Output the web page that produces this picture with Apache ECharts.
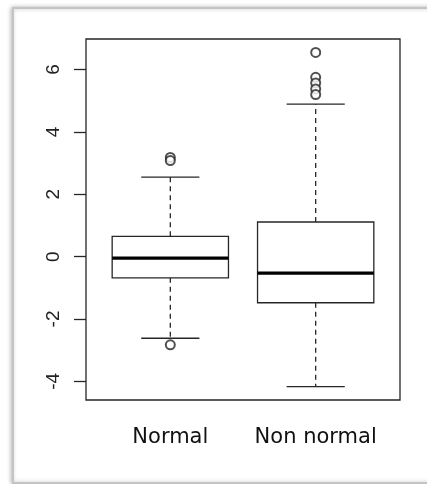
<!DOCTYPE html>
<html>
<head>
<meta charset="utf-8">
<script src="https://cdn.jsdelivr.net/npm/echarts@6/dist/echarts.min.js"></script>
<style>
html,body{margin:0;padding:0;background:#fff;}
#chart{width:427px;height:484px;}
</style>
</head>
<body>
<div id="chart"></div>
<script>
// ---- data ----
const categories = ['Normal', 'Non normal'];
const lowWhisker = [-2.62, -4.17];
const q1 = [-0.68, -1.48];
const median = [-0.05, -0.53];
const q3 = [0.65, 1.11];
const highWhisker = [2.55, 4.89];
const normalOutliers = [3.18, 3.08, -2.83];
const nonNormalOutliers = [6.55, 5.75, 5.57, 5.38, 5.2];
const yTicks = [-4, -2, 0, 2, 4, 6];
const xTicks = [1, 2];

const boxRows = categories.map((c, i) => [i + 1, lowWhisker[i], q1[i], median[i], q3[i], highWhisker[i]]);
const outlierPoints = []
  .concat(normalOutliers.map(v => [1, v]))
  .concat(nonNormalOutliers.map(v => [2, v]));

const chart = echarts.init(document.getElementById('chart'), null, {renderer: 'canvas'});
const lineColor = '#262626';

function renderBox(params, api) {
  const x = api.value(0);
  const lo = api.value(1), a = api.value(2), md = api.value(3), b = api.value(4), hi = api.value(5);
  const half = api.size([0.4, 0])[0];
  const capHalf = api.size([0.2, 0])[0];
  const pLo = api.coord([x, lo]), pA = api.coord([x, a]), pM = api.coord([x, md]), pB = api.coord([x, b]), pHi = api.coord([x, hi]);
  const cx = pM[0];
  const solid = {stroke: lineColor, lineWidth: 1.3, fill: null};
  const dashed = {stroke: lineColor, lineWidth: 1.3, lineDash: [5, 4]};
  return {
    type: 'group',
    children: [
      {type: 'line', shape: {x1: cx, y1: pB[1], x2: cx, y2: pHi[1]}, style: dashed},
      {type: 'line', shape: {x1: cx, y1: pA[1], x2: cx, y2: pLo[1]}, style: dashed},
      {type: 'line', shape: {x1: cx - capHalf, y1: pHi[1], x2: cx + capHalf, y2: pHi[1]}, style: solid},
      {type: 'line', shape: {x1: cx - capHalf, y1: pLo[1], x2: cx + capHalf, y2: pLo[1]}, style: solid},
      {type: 'rect', shape: {x: cx - half, y: pB[1], width: 2 * half, height: pA[1] - pB[1]}, style: {stroke: lineColor, lineWidth: 1.3, fill: '#fff'}},
      {type: 'line', shape: {x1: cx - half, y1: pM[1], x2: cx + half, y2: pM[1]}, style: {stroke: '#000', lineWidth: 3.4}}
    ]
  };
}

chart.setOption({
  animation: false,
  backgroundColor: '#fff',
  graphic: [{
    type: 'rect', left: 12, top: 7, z: -10,
    shape: {width: 430, height: 475},
    style: {fill: '#fff', stroke: '#c4c4c4', lineWidth: 2, shadowBlur: 4, shadowColor: 'rgba(0,0,0,0.25)', shadowOffsetX: -1}
  }],
  grid: {left: 86, right: 27, top: 39, bottom: 84, show: true, borderColor: lineColor, borderWidth: 1.3, backgroundColor: 'transparent'},
  xAxis: {
    type: 'value', min: 0.42, max: 2.58,
    splitLine: {show: false},
    axisLine: {show: false},
    axisTick: {show: true, customValues: xTicks, length: 11, lineStyle: {color: lineColor, width: 1.3}},
    axisLabel: {
      customValues: xTicks, margin: 27,
      formatter: v => categories[Math.round(v) - 1] || '',
      fontFamily: 'DejaVu Sans', fontSize: 21, color: '#111'
    }
  },
  yAxis: {
    type: 'value', min: -4.6, max: 6.98,
    splitLine: {show: false},
    axisLine: {show: false},
    axisTick: {show: true, customValues: yTicks, length: 12, lineStyle: {color: lineColor, width: 1.3}},
    axisLabel: {
      customValues: yTicks, margin: 23, rotate: 90,
      fontFamily: 'Liberation Sans', fontSize: 19, color: '#222'
    }
  },
  series: [
    {type: 'custom', renderItem: renderBox, data: boxRows, z: 2},
    {type: 'scatter', data: outlierPoints, symbol: 'emptyCircle', symbolSize: 9,
     itemStyle: {color: lineColor, borderColor: lineColor, borderWidth: 1.4}, z: 3}
  ]
});
</script>
</body>
</html>
